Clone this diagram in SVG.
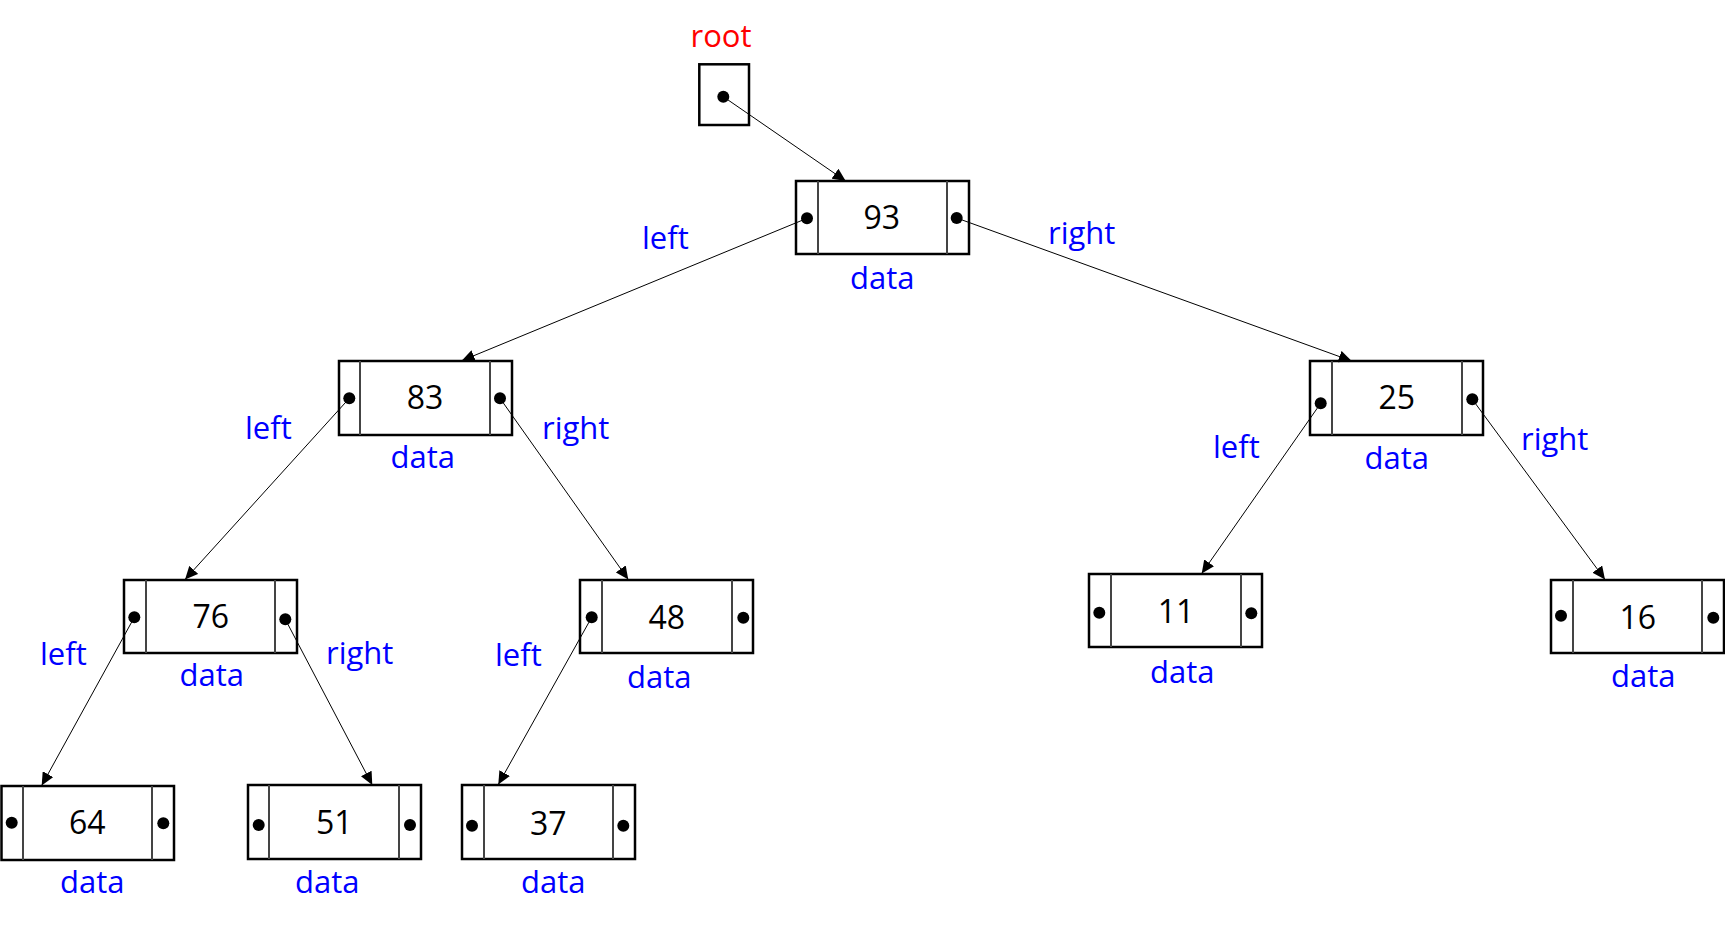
<svg xmlns="http://www.w3.org/2000/svg" width="1725" height="929" viewBox="0 0 1725 929">
<style>
.box{fill:#fff;stroke:#000;stroke-width:2.5}
.div{stroke:#444;stroke-width:2}
.dot{fill:#000}
.val{font-family:"Open Sans","Liberation Sans",sans-serif;font-size:32px;fill:#000;text-anchor:middle}
.lbl{font-family:"Open Sans","Liberation Sans",sans-serif;font-size:31px;fill:#0000ff}
.mid{text-anchor:middle}
.root{font-family:"Open Sans","Liberation Sans",sans-serif;font-size:31px;fill:#ff0000;text-anchor:middle}
.edge{stroke:#000;stroke-width:1;fill:none;marker-end:url(#arr)}
</style>
<defs>
<marker id="arr" markerUnits="userSpaceOnUse" markerWidth="14" markerHeight="12" refX="13" refY="6" orient="auto">
<path d="M0,0 L13,6 L0,12 Z" fill="#000"/>
</marker>
</defs>
<rect width="1725" height="929" fill="#fff"/>
<g id="edge-labels">
<text class="lbl" x="642" y="249">left</text>
<text class="lbl" x="1048" y="244">right</text>
<text class="lbl" x="245" y="439">left</text>
<text class="lbl" x="542" y="439">right</text>
<text class="lbl" x="1213" y="458">left</text>
<text class="lbl" x="1521" y="450">right</text>
<text class="lbl" x="40" y="665">left</text>
<text class="lbl" x="326" y="664">right</text>
<text class="lbl" x="495" y="666">left</text>
</g>
<g id="root">
<text class="root" x="721" y="46.7">root</text>
<rect class="box" x="699.3" y="64.3" width="49.7" height="60.7"/>
<circle class="dot" cx="723.3" cy="96.7" r="6"/>
</g>
<g id="n93">
<rect class="box" x="796" y="181" width="173" height="73"/>
<line class="div" x1="818" y1="181" x2="818" y2="254"/>
<line class="div" x1="947" y1="181" x2="947" y2="254"/>
<circle class="dot" cx="807" cy="218.3" r="6"/>
<circle class="dot" cx="956.7" cy="218" r="6"/>
<text class="val" x="881.7" y="229">93</text>
<text class="lbl mid" x="882.3" y="289">data</text>
</g>
<g id="n83">
<rect class="box" x="339" y="361" width="173" height="74"/>
<line class="div" x1="360" y1="361" x2="360" y2="435"/>
<line class="div" x1="490" y1="361" x2="490" y2="435"/>
<circle class="dot" cx="349.3" cy="398.3" r="6"/>
<circle class="dot" cx="500" cy="398.3" r="6"/>
<text class="val" x="425" y="409">83</text>
<text class="lbl mid" x="422.7" y="468">data</text>
</g>
<g id="n25">
<rect class="box" x="1310" y="361" width="173" height="74"/>
<line class="div" x1="1332" y1="361" x2="1332" y2="435"/>
<line class="div" x1="1462" y1="361" x2="1462" y2="435"/>
<circle class="dot" cx="1320.7" cy="403.3" r="6"/>
<circle class="dot" cx="1472.3" cy="399.3" r="6"/>
<text class="val" x="1396.7" y="409">25</text>
<text class="lbl mid" x="1396.7" y="469">data</text>
</g>
<g id="n76">
<rect class="box" x="124" y="580" width="173" height="73"/>
<line class="div" x1="146" y1="580" x2="146" y2="653"/>
<line class="div" x1="275" y1="580" x2="275" y2="653"/>
<circle class="dot" cx="134.3" cy="617.3" r="6"/>
<circle class="dot" cx="285.3" cy="619.3" r="6"/>
<text class="val" x="210.7" y="628.3">76</text>
<text class="lbl mid" x="211.7" y="686">data</text>
</g>
<g id="n48">
<rect class="box" x="580" y="580" width="173" height="73"/>
<line class="div" x1="602" y1="580" x2="602" y2="653"/>
<line class="div" x1="732" y1="580" x2="732" y2="653"/>
<circle class="dot" cx="591.7" cy="617.3" r="6"/>
<circle class="dot" cx="743.3" cy="617.7" r="6"/>
<text class="val" x="666.7" y="629">48</text>
<text class="lbl mid" x="659.3" y="688">data</text>
</g>
<g id="n11">
<rect class="box" x="1089" y="574" width="173" height="73"/>
<line class="div" x1="1111" y1="574" x2="1111" y2="647"/>
<line class="div" x1="1241" y1="574" x2="1241" y2="647"/>
<circle class="dot" cx="1099.3" cy="612.7" r="6"/>
<circle class="dot" cx="1251.3" cy="613.3" r="6"/>
<text class="val" x="1176" y="622.7">11</text>
<text class="lbl mid" x="1182.3" y="683">data</text>
</g>
<g id="n16">
<rect class="box" x="1551" y="580" width="173" height="73"/>
<line class="div" x1="1573" y1="580" x2="1573" y2="653"/>
<line class="div" x1="1702" y1="580" x2="1702" y2="653"/>
<circle class="dot" cx="1561" cy="615.7" r="6"/>
<circle class="dot" cx="1713.3" cy="617.7" r="6"/>
<text class="val" x="1637.7" y="629">16</text>
<text class="lbl mid" x="1643.3" y="686.7">data</text>
</g>
<g id="n64">
<rect class="box" x="1.5" y="786" width="172.5" height="74"/>
<line class="div" x1="23" y1="786" x2="23" y2="860"/>
<line class="div" x1="152" y1="786" x2="152" y2="860"/>
<circle class="dot" cx="11.7" cy="822.7" r="6"/>
<circle class="dot" cx="163.3" cy="823.3" r="6"/>
<text class="val" x="87.3" y="834">64</text>
<text class="lbl mid" x="92.3" y="893">data</text>
</g>
<g id="n51">
<rect class="box" x="248" y="785" width="173" height="74"/>
<line class="div" x1="269" y1="785" x2="269" y2="859"/>
<line class="div" x1="399" y1="785" x2="399" y2="859"/>
<circle class="dot" cx="258.7" cy="825" r="6"/>
<circle class="dot" cx="410" cy="825" r="6"/>
<text class="val" x="334.3" y="834">51</text>
<text class="lbl mid" x="327.3" y="893">data</text>
</g>
<g id="n37">
<rect class="box" x="462" y="785" width="173" height="74"/>
<line class="div" x1="484" y1="785" x2="484" y2="859"/>
<line class="div" x1="613" y1="785" x2="613" y2="859"/>
<circle class="dot" cx="472" cy="825.7" r="6"/>
<circle class="dot" cx="623.3" cy="825.7" r="6"/>
<text class="val" x="548.3" y="835">37</text>
<text class="lbl mid" x="553.3" y="893">data</text>
</g>
<g id="connectors">
<line class="edge" x1="723.3" y1="96.7" x2="845.7" y2="181"/>
<line class="edge" x1="807" y1="218.3" x2="461.7" y2="360.7"/>
<line class="edge" x1="956.7" y1="218" x2="1351.7" y2="361"/>
<line class="edge" x1="349.3" y1="398.3" x2="185" y2="579.5"/>
<line class="edge" x1="500" y1="398.3" x2="628.3" y2="579.5"/>
<line class="edge" x1="1320.7" y1="403.3" x2="1201.7" y2="573.5"/>
<line class="edge" x1="1472.3" y1="399.3" x2="1605" y2="579.5"/>
<line class="edge" x1="134.3" y1="617.3" x2="41.7" y2="785.5"/>
<line class="edge" x1="285.3" y1="619.3" x2="372.3" y2="785"/>
<line class="edge" x1="591.7" y1="617.3" x2="498.3" y2="784.5"/>
</g>
</svg>
